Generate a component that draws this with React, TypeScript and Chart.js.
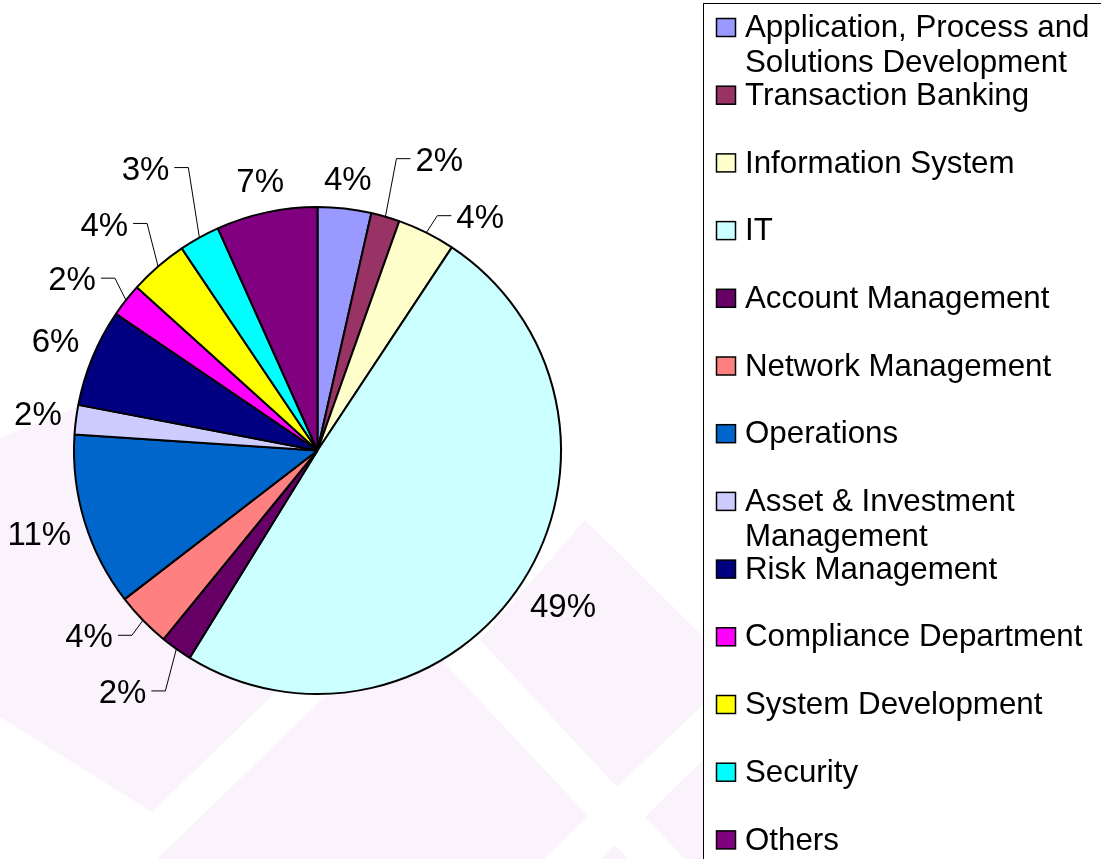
import React, { useEffect, useRef } from "react";
import { Chart, registerables } from "chart.js";

Chart.register(...registerables);

// ---- data ----
const categories = [
  "Application, Process and Solutions Development",
  "Transaction Banking",
  "Information System",
  "IT",
  "Account Management",
  "Network Management",
  "Operations",
  "Asset & Investment Management",
  "Risk Management",
  "Compliance Department",
  "System Development",
  "Security",
  "Others",
];
const shares = [3.55, 1.9, 3.85, 49.49, 2.1, 3.66, 11.49, 1.96, 6.49, 2.2, 3.9, 2.7, 6.71];

// ---- styles ----
const sliceColors = [
  "#9999FF",
  "#993366",
  "#FFFFCC",
  "#CCFFFF",
  "#660066",
  "#FF8080",
  "#0066CC",
  "#CCCCFF",
  "#000080",
  "#FF00FF",
  "#FFFF00",
  "#00FFFF",
  "#800080",
];
// vertical rise of the leader line for labels moved away from their slice (null = no leader)
const leaderRise: (number | null)[] = [null, -58, -17, null, 42, 15, null, null, null, -22, -43, -70, null];

const FONT = '"Liberation Sans", Arial, Helvetica, sans-serif';
const LAVENDER = "#FAF3FC";
const backdropShapes: number[][][] = [
  [[0, 438], [300, 319], [480, 494], [152, 812], [0, 717]],
  [[404, 620], [588, 816], [544, 859], [157, 859]],
  [[585, 520], [738, 671], [617, 787], [480, 640]],
  [[645, 817], [760, 704], [760, 859], [685, 859]],
  [[615, 845], [628, 859], [601, 859]],
];

const backdropPlugin = {
  id: "backdrop",
  beforeDraw(chart: any) {
    const ctx = chart.ctx as CanvasRenderingContext2D;
    ctx.save();
    ctx.fillStyle = "#ffffff";
    ctx.fillRect(0, 0, chart.width, chart.height);
    ctx.fillStyle = LAVENDER;
    for (const poly of backdropShapes) {
      ctx.beginPath();
      poly.forEach(([px, py], k) => (k === 0 ? ctx.moveTo(px, py) : ctx.lineTo(px, py)));
      ctx.closePath();
      ctx.fill();
    }
    ctx.restore();
  },
};

const labelPlugin = {
  id: "sliceLabels",
  afterDatasetsDraw(chart: any) {
    const ctx = chart.ctx as CanvasRenderingContext2D;
    const meta = chart.getDatasetMeta(0);
    const values = chart.data.datasets[0].data as number[];
    const total = values.reduce((a, b) => a + b, 0);
    ctx.save();
    ctx.font = `33px ${FONT}`;
    ctx.fillStyle = "#000";
    ctx.strokeStyle = "#000";
    ctx.lineWidth = 1;
    meta.data.forEach((arc: any, i: number) => {
      const p = arc.getProps(["x", "y", "startAngle", "endAngle", "outerRadius"], true);
      const mid = (p.startAngle + p.endAngle) / 2;
      const cx = Math.cos(mid);
      const sy = Math.sin(mid);
      const text = Math.round((values[i] / total) * 100) + "%";
      const w = ctx.measureText(text).width;
      const h = 26;
      const rise = leaderRise[i];
      ctx.textBaseline = "middle";
      if (rise == null) {
        const rr = p.outerRadius + 13 + (Math.abs(cx) * w) / 2 + (Math.abs(sy) * h) / 2;
        ctx.textAlign = "center";
        ctx.fillText(text, p.x + cx * rr, p.y + sy * rr + 1);
      } else {
        const side = cx >= 0 ? 1 : -1;
        const px = p.x + cx * p.outerRadius;
        const py = p.y + sy * p.outerRadius;
        const ex = px + side * 11;
        const ey = py + rise;
        const hx = ex + side * 14;
        ctx.beginPath();
        ctx.moveTo(px, py);
        ctx.lineTo(ex, ey);
        ctx.lineTo(hx, ey);
        ctx.stroke();
        ctx.textAlign = side > 0 ? "left" : "right";
        ctx.fillText(text, hx + side * 5, ey + 3);
      }
    });
    ctx.restore();
  },
};

function wrapText(ctx: CanvasRenderingContext2D, text: string, maxW: number): string[] {
  const words = text.split(" ");
  const lines: string[] = [];
  let cur = "";
  for (const wd of words) {
    const test = cur ? cur + " " + wd : wd;
    if (cur && ctx.measureText(test).width > maxW) {
      lines.push(cur);
      cur = wd;
    } else cur = test;
  }
  if (cur) lines.push(cur);
  return lines;
}

const legendPlugin = {
  id: "boxLegend",
  afterDraw(chart: any) {
    const ctx = chart.ctx as CanvasRenderingContext2D;
    const labels = chart.data.labels as string[];
    const colors = chart.data.datasets[0].backgroundColor as string[];
    const left = 703.5;
    const top = 3.5;
    ctx.save();
    ctx.fillStyle = "#fff";
    ctx.fillRect(left, top, 600, 1000);
    ctx.strokeStyle = "#000";
    ctx.lineWidth = 1;
    ctx.strokeRect(left, top, 600, 1000);
    ctx.font = `31.3px ${FONT}`;
    ctx.textBaseline = "middle";
    ctx.textAlign = "left";
    const y0 = 27.5;
    const step = 67.7;
    labels.forEach((lab, i) => {
      const cy = y0 + step * i;
      ctx.fillStyle = colors[i];
      ctx.fillRect(716.5, cy - 9, 19, 18);
      ctx.lineWidth = 1.5;
      ctx.strokeStyle = "#000";
      ctx.strokeRect(716.5, cy - 9, 19, 18);
      ctx.fillStyle = "#000";
      const lines = wrapText(ctx, lab, 354);
      lines.forEach((ln, j) => ctx.fillText(ln, 745, cy + 1 + j * 35));
    });
    ctx.restore();
  },
};

export default function App() {
  const ref = useRef<HTMLCanvasElement | null>(null);
  useEffect(() => {
    if (!ref.current) return;
    const chart = new Chart(ref.current, {
      type: "pie",
      data: {
        labels: categories,
        datasets: [
          {
            data: shares,
            backgroundColor: sliceColors,
            borderColor: "#000",
            borderWidth: 2,
          },
        ],
      },
      options: {
        responsive: false,
        animation: false,
        layout: { padding: { left: 73, top: 206, right: 539, bottom: 164 } },
        plugins: {
          legend: { display: false },
          tooltip: { enabled: false },
          title: { display: false },
        },
      },
      plugins: [backdropPlugin, labelPlugin, legendPlugin],
    });
    return () => chart.destroy();
  }, []);
  return (
    <div style={{ position: "absolute", left: 0, top: 0, width: 1101, height: 859 }}>
      <canvas ref={ref} width={1101} height={859} style={{ display: "block" }} />
    </div>
  );
}
